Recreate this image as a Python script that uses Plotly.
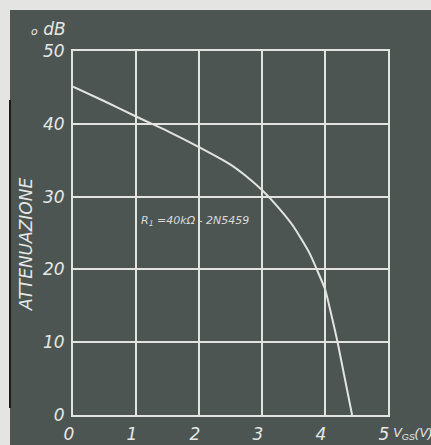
import plotly.graph_objects as go

# Data
vgs = [0, 0.5, 1, 1.5, 2, 2.5, 2.75, 3, 3.25, 3.5, 3.75, 3.87, 4, 4.1, 4.2, 4.43]
att = [45.1, 43.1, 41.0, 39.0, 36.8, 34.4, 32.8, 30.9, 28.6, 25.9, 22.3, 20.0, 17.3, 13.8, 10.0, 0.0]

x_ticks = [0, 1, 2, 3, 4, 5]
y_ticks = [0, 10, 20, 30, 40, 50]

W, H = 431, 445
L, R, T, B = 73, 43, 51, 30
PW, PH = W - L - R, H - T - B

BG = "#4c5552"
LIGHT = "#e4e4e2"
LINE = "#e2e4e2"
TXT = "#e6e8e6"

def px(xp):
    return (xp - L) / PW

def py(yp):
    return (H - B - yp) / PH

FAM = "DejaVu Sans, Liberation Sans, sans-serif"
font = dict(family=FAM, color=TXT, size=17, style="italic")

fig = go.Figure()
fig.add_trace(go.Scatter(x=vgs, y=att, mode="lines",
                         line=dict(color=LINE, width=2, shape="spline", smoothing=0.5),
                         hoverinfo="skip", showlegend=False))

fig.update_layout(
    template="none",
    width=W, height=H,
    margin=dict(l=L, r=R, t=T, b=B, autoexpand=False),
    paper_bgcolor=LIGHT,
    plot_bgcolor=BG,
    showlegend=False,
    xaxis=dict(range=[0, 5], tickvals=x_ticks, ticktext=[str(v) for v in x_ticks],
               showgrid=True, gridcolor=LINE, gridwidth=2, zeroline=False, automargin=False,
               showline=True, mirror=True, linecolor=LINE, linewidth=2,
               ticks="", tickfont=font, ticklabelstandoff=3, ticklabelshift=-4, fixedrange=True),
    yaxis=dict(range=[0, 50], tickvals=y_ticks, ticktext=[str(v) for v in y_ticks],
               showgrid=True, gridcolor=LINE, gridwidth=2, zeroline=False, automargin=False,
               showline=True, mirror=True, linecolor=LINE, linewidth=2,
               ticks="", tickfont=font, ticklabelstandoff=3, fixedrange=True),
    shapes=[
        dict(type="rect", xref="paper", yref="paper", x0=px(10), x1=px(W + 5), y0=py(10), y1=py(H + 5),
             fillcolor=BG, line=dict(width=0), layer="below"),
        dict(type="line", xref="paper", yref="paper", x0=px(10), x1=px(10), y0=py(100), y1=py(408),
             line=dict(color="#1a1c1c", width=2), layer="below"),
    ],
    annotations=[
        dict(text="<span style='font-size:11px'>o</span> dB", xref="paper", yref="paper",
             x=px(29), y=py(29), xanchor="left", yanchor="middle", showarrow=False, font=font),
        dict(text="ATTENUAZIONE", xref="paper", yref="paper", textangle=-90,
             x=px(26), y=py(245), xanchor="center", yanchor="middle", showarrow=False,
             font=dict(family=FAM, color=TXT, size=17, style="italic")),
        dict(text="R<sub>1</sub> =40kΩ - 2N5459", xref="paper", yref="paper",
             x=px(139), y=py(221), xanchor="left", yanchor="middle", showarrow=False,
             font=dict(family=FAM, color="#d8dad8", size=11, style="italic")),
        dict(text="V<sub>GS</sub>(V)", xref="paper", yref="paper",
             x=px(391), y=py(433), xanchor="left", yanchor="middle", showarrow=False,
             font=dict(family="Liberation Sans, sans-serif", color=TXT, size=13, style="italic")),
    ],
)

fig.write_html("out.html", config={"displayModeBar": False},
               post_script="document.body.style.margin='0';document.body.style.overflow='hidden';")
